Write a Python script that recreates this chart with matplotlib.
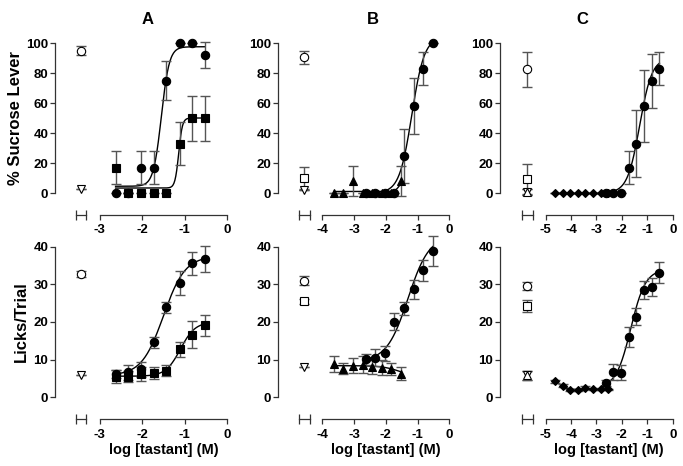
import numpy as np
import matplotlib
matplotlib.use('Agg')
import matplotlib.pyplot as plt

plt.rcParams['font.family'] = ['Liberation Sans', 'DejaVu Sans']
plt.rcParams['font.weight'] = 'bold'
plt.rcParams['axes.unicode_minus'] = False

# log concentration of each tastant step (M)
xCirc = [-2.63, -2.33, -2.03, -1.73, -1.43, -1.12, -0.82, -0.52]
xSq = [-2.63, -2.33, -2.03, -1.73, -1.43, -1.12, -0.82, -0.52]
xTri = [-3.63, -3.33, -3.03, -2.73, -2.43, -2.13, -1.83, -1.53]
xDia = [-4.63, -4.33, -4.03, -3.73, -3.43, -3.13, -2.83, -2.53]

# ---- A ----
aLevCirc = [0, 0, 17, 17, 75, 100, 100, 92]
aLevCircErr = [0, 0, 11, 11, 13, 0, 0, 8.5]
aLevSq = [17, 0, 0, 0, 0, 33, 50, 50]
aLevSqErr = [11, 0, 0, 0, 0, 14.5, 15, 15]
aLickCirc = [6.2, 6.6, 7.5, 14.6, 23.9, 30.4, 35.6, 36.7]
aLickCircErr = [1.0, 2.1, 2.0, 1.4, 1.4, 3.1, 3.1, 3.5]
aLickSq = [5.5, 5.5, 6.2, 6.4, 7.1, 12.7, 16.6, 19.1]
aLickSqErr = [1.8, 1.5, 1.8, 1.6, 1.5, 2.0, 3.6, 2.8]

# ---- B ----
bLevCirc = [0, 0, 0, 0, 25, 58, 83, 100]
bLevCircErr = [0, 0, 0, 0, 18, 18.5, 11, 0]
bLevTri = [0, 0, 8, 0, 0, 0, 0, 8]
bLevTriErr = [0, 0, 10, 0, 0, 0, 0, 10]
bLickCirc = [10.1, 10.5, 11.7, 20.1, 23.6, 28.7, 33.8, 38.8]
bLickCircErr = [1.5, 2.2, 2.0, 2.2, 1.7, 2.5, 2.8, 4.0]
bLickTri = [8.8, 7.6, 8.4, 8.7, 8.1, 7.9, 7.4, 6.3]
bLickTriErr = [2.2, 1.5, 2.0, 2.3, 1.9, 2.1, 1.6, 1.8]

# ---- C ----
cLevCirc = [0, 0, 0, 17, 33, 58, 75, 83]
cLevCircErr = [0, 0, 0, 11, 22.5, 24, 18, 11]
cLevDia = [0, 0, 0, 0, 0, 0, 0, 0]
cLickCirc = [3.7, 6.7, 6.5, 16.1, 21.4, 28.4, 29.3, 33.1]
cLickCircErr = [0.8, 2.2, 2.0, 2.7, 2.3, 2.4, 2.4, 2.8]
cLickDia = [4.2, 3.1, 2.0, 2.0, 2.6, 2.2, 2.1, 2.1]
cLickDiaErr = [0.3, 0.3, 0.2, 0.2, 0.3, 0.2, 0.2, 0.2]

# control values (mean, sem): open circle, open square, open down / up triangle
ctrlLever = {'A': {'o': (95, 3), 'v': (3, 0)},
             'B': {'o': (90.5, 4.5), 's': (10, 7.5), 'v': (2, 0)},
             'C': {'o': (82.5, 11.5), 's': (9.5, 10), 'v': (0.5, 2), '^': (0.5, 2)}}
ctrlLick = {'A': {'o': (32.7, 0.8), 'v': (6.0, 0)},
            'B': {'o': (31, 1.1), 's': (25.5, 0.6), 'v': (8, 0)},
            'C': {'o': (29.6, 1.1), 's': (24.3, 1.6), 'v': (5.8, 1.2), '^': (5.8, 1.2)}}

# sigmoid fits: bottom, top, logEC50, hill
fits = {
    'aLevCirc': (4.5, 97.5, -1.55, 4.6), 'aLevSq': (3.3, 50, -1.14, 10),
    'aLickCirc': (5.8, 37.5, -1.5, 1.7), 'aLickSq': (5.6, 20, -1.1, 2.5),
    'bLevCirc': (0, 104, -1.18, 2.2), 'bLevTri': (1.0, 10, -1.55, 6),
    'bLickCirc': (9.5, 43, -1.3, 1.3), 'bLickTri': (8.4, 5, -1.5, 1.5),
    'cLevCirc': (0, 90, -1.3, 1.8), 'cLevDia': (0.3, 0.3, -3, 1),
    'cLickCirc': (2.5, 34, -1.65, 1.5), 'cLickDia': (5.5, 2.05, -4.5, 3),
}

def sigmoid(x, bottom, top, logec, hill):
    return bottom + (top - bottom) / (1 + 10 ** ((logec - x) * hill))

ERR_COL = '#555555'
AX_COL = '#333333'

def plotSeries(ax, x, y, err, marker, ms, fit=None, mfc='black'):
    if fit is not None:
        xs = np.linspace(x[0], x[-1], 200)
        ax.plot(xs, sigmoid(xs, *fit), color='black', lw=1, zorder=2, clip_on=False)
    ax.errorbar(x, y, yerr=err, fmt='none', ecolor=ERR_COL, elinewidth=1,
                capsize=3.4, capthick=1, zorder=3, clip_on=False)
    ax.plot(x, y, ls='none', marker=marker, ms=ms, mfc=mfc, mec='black',
            mew=0.8, zorder=4, clip_on=False)

def plotCtrl(ax, xc, ctrl):
    sizes = {'o': 6, 's': 5.5, 'v': 6, '^': 6}
    for m, (val, e) in ctrl.items():
        plotSeries(ax, [xc], [val], [e], m, sizes[m], mfc='white')

def setupAxes(ax, ymax, yticks, xlo, xmain, hbounds):
    ax.set_xlim(xlo, 0)
    ax.set_ylim(0, ymax)
    for s in ['top', 'right']:
        ax.spines[s].set_visible(False)
    ax.spines['left'].set_bounds(0, ymax)
    ax.spines['bottom'].set_position(('outward', 15.8))
    ax.spines['bottom'].set_bounds(xmain, 0)
    for s in ['left', 'bottom']:
        ax.spines[s].set_color(AX_COL)
        ax.spines[s].set_linewidth(0.9)
    ax.set_yticks(yticks)
    ax.set_xticks(np.arange(xmain, 1, 1))
    ax.tick_params(axis='both', direction='out', length=3.6, width=0.9,
                   color=AX_COL, labelsize=9.5)
    ax.tick_params(axis='x', pad=3.2)
    ax.tick_params(axis='y', pad=1.2)
    # short broken axis segment below the controls
    ax2 = ax.twiny()
    ax2.set_xlim(xlo, 0)
    for s in ['top', 'right', 'left']:
        ax2.spines[s].set_visible(False)
    ax2.spines['bottom'].set_visible(True)
    ax2.xaxis.set_ticks_position('bottom')
    ax2.spines['bottom'].set_position(('outward', 15.8))
    ax2.spines['bottom'].set_bounds(*hbounds)
    ax2.spines['bottom'].set_color(AX_COL)
    ax2.spines['bottom'].set_linewidth(0.9)
    ax2.set_xticks(list(hbounds))
    ax2.set_xticklabels(['', ''])
    ax2.tick_params(axis='x', direction='inout', length=7, width=0.9, color=AX_COL)

W, H = 683, 466
fig = plt.figure(figsize=(W / 100, H / 100), dpi=100)

def addAxes(left, right, top, bottom):
    return fig.add_axes([left / W, 1 - bottom / H, (right - left) / W, (bottom - top) / H])

panels = {
    'A': dict(lr=(55, 227), xlo=-4.06, xmain=-3, xc=-3.45, hb=(-3.57, -3.33), tx=148),
    'B': dict(lr=(278, 449.3), xlo=-5.39, xmain=-4, xc=-4.58, hb=(-4.73, -4.39), tx=373),
    'C': dict(lr=(500, 672.7), xlo=-6.79, xmain=-5, xc=-5.71, hb=(-5.91, -5.5), tx=582),
}

axes = {}
for key, p in panels.items():
    axT = addAxes(p['lr'][0], p['lr'][1], 43, 193)
    axB = addAxes(p['lr'][0], p['lr'][1], 246.7, 397.3)
    setupAxes(axT, 100, [0, 20, 40, 60, 80, 100], p['xlo'], p['xmain'], p['hb'])
    setupAxes(axB, 40, [0, 10, 20, 30, 40], p['xlo'], p['xmain'], p['hb'])
    plotCtrl(axT, p['xc'], ctrlLever[key])
    plotCtrl(axB, p['xc'], ctrlLick[key])
    fig.text(p['tx'] / W, 1 - 19 / H, key, ha='center', va='center', fontsize=12, fontweight='bold')
    xmid = (p['xmain'] + 0) / 2
    axB.text(xmid, -0.35, 'log [tastant] (M)', transform=axB.get_xaxis_transform(),
             ha='center', va='center', fontsize=10.5, fontweight='bold')
    axes[key] = (axT, axB)

# panel A
axT, axB = axes['A']
plotSeries(axT, xCirc, aLevCirc, aLevCircErr, 'o', 6, fits['aLevCirc'])
plotSeries(axT, xSq, aLevSq, aLevSqErr, 's', 5.5, fits['aLevSq'])
plotSeries(axB, xCirc, aLickCirc, aLickCircErr, 'o', 6, fits['aLickCirc'])
plotSeries(axB, xSq, aLickSq, aLickSqErr, 's', 5.5, fits['aLickSq'])
axT.set_ylabel('% Sucrose Lever', fontsize=12, fontweight='bold')
axT.yaxis.set_label_coords(-0.186, 0.5)
axB.set_ylabel('Licks/Trial', fontsize=12, fontweight='bold')
axB.yaxis.set_label_coords(-0.151, 0.5)

# panel B
axT, axB = axes['B']
plotSeries(axT, xTri, bLevTri, bLevTriErr, '^', 6, fits['bLevTri'])
plotSeries(axT, xCirc, bLevCirc, bLevCircErr, 'o', 6, fits['bLevCirc'])
plotSeries(axB, xTri, bLickTri, bLickTriErr, '^', 6, fits['bLickTri'])
plotSeries(axB, xCirc, bLickCirc, bLickCircErr, 'o', 6, fits['bLickCirc'])

# panel C
axT, axB = axes['C']
plotSeries(axT, xDia, cLevDia, [0] * 8, 'D', 4.5, fits['cLevDia'])
plotSeries(axT, xCirc, cLevCirc, cLevCircErr, 'o', 6, fits['cLevCirc'])
plotSeries(axB, xDia, cLickDia, cLickDiaErr, 'D', 4.5, fits['cLickDia'])
plotSeries(axB, xCirc, cLickCirc, cLickCircErr, 'o', 6, fits['cLickCirc'])

fig.savefig('out.png', dpi=100)
